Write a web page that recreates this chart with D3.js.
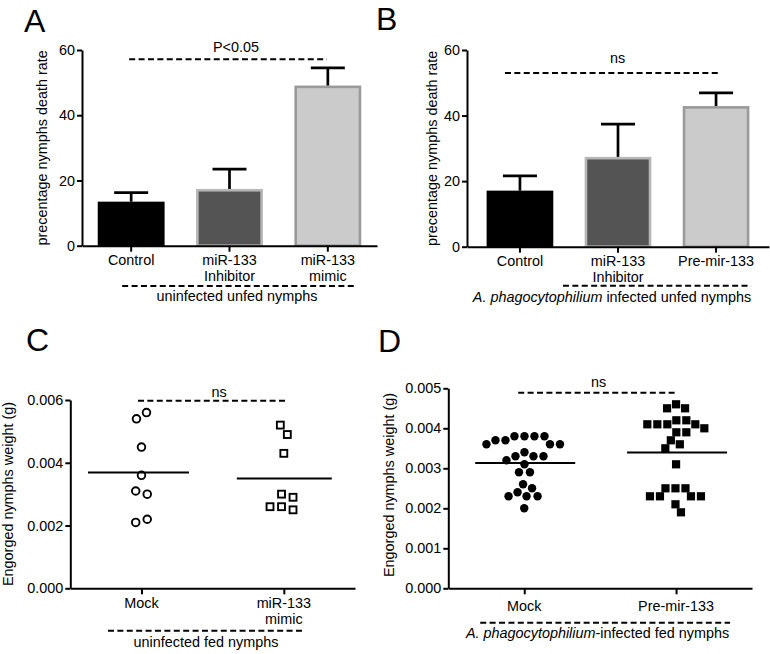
<!DOCTYPE html>
<html>
<head>
<meta charset="utf-8">
<script src="https://cdn.jsdelivr.net/npm/d3@7"></script>
<style>
  html, body { margin: 0; padding: 0; background: #fff; }
  svg { display: block; }
  text { font-family: 'Liberation Sans', Arial, Helvetica, sans-serif; fill: #000; }
</style>
</head>
<body>
<svg id="chart" width="770" height="654"></svg>
<script>
// ---------------- DATA ----------------
// Panel A (uninfected unfed nymphs)
const catsA  = ["Control", "miR-133|Inhibitor", "miR-133|mimic"];
const meansA = [13.5, 17.4, 49.1];
const errA   = [2.8, 6.1, 5.4];
// Panel B (A. phagocytophilium infected unfed nymphs)
const catsB  = ["Control", "miR-133|Inhibitor", "Pre-mir-133"];
const meansB = [17.1, 27.4, 42.9];
const errB   = [4.5, 10.0, 4.0];
const ticksAB = [0, 20, 40, 60];

// Panel C (uninfected fed nymphs)
const catsC  = ["Mock", "miR-133|mimic"];
const mockC  = [0.0054, 0.0056, 0.0045, 0.0036, 0.0031, 0.0030, 0.0021, 0.0022];
const mimicC = [0.0052, 0.0049, 0.0043, 0.0030, 0.0029, 0.0026, 0.0025, 0.0026];
const ticksC = [0, 0.002, 0.004, 0.006];

// Panel D (A. phagocytophilium-infected fed nymphs)
const catsD  = ["Mock", "Pre-mir-133"];
const mockD  = [0.0038, 0.0038, 0.0038, 0.0038, 0.0037, 0.0037, 0.0036, 0.0036, 0.0036,
                0.0034, 0.0033, 0.0033, 0.0033, 0.0032, 0.0031, 0.0029, 0.0029,
                0.0026, 0.0025, 0.0024, 0.0023, 0.0023, 0.0023, 0.0020];
const preD   = [0.0046, 0.0045, 0.0045, 0.0042, 0.0042, 0.0041, 0.0041, 0.0041, 0.0041,
                0.0040, 0.0039, 0.0039, 0.0037, 0.0036, 0.0035, 0.0031,
                0.0025, 0.0025, 0.0025, 0.0023, 0.0023, 0.0023, 0.0023, 0.0021, 0.0019];
const ticksD = [0, 0.001, 0.002, 0.003, 0.004, 0.005];

// Annotations
const panelLetters = ["A", "B", "C", "D"];
const sigLabels    = ["P<0.05", "ns", "ns", "ns"];
const sigLevels    = [57.2, 53, 0.00598, 0.00489];
const groupLabels  = [
  [{t: "uninfected unfed nymphs"}],
  [{t: "A. phagocytophilium", i: true}, {t: " infected unfed nymphs"}],
  [{t: "uninfected fed nymphs"}],
  [{t: "A. phagocytophilium", i: true}, {t: "-infected fed nymphs"}]
];
const yTitles = ["precentage nymphs death rate", "precentage nymphs death rate",
                 "Engorged nymphs weight (g)", "Engorged nymphs weight (g)"];

// ---------------- DRAW ----------------
const svg = d3.select("#chart");
const FS = 14.4;
const barFill   = ["#000000", "#545454", "#cbcbcb"];
const barStroke = ["#000000", "#b6b6b6", "#9a9a9a"];

function dashed(x1, x2, y) {
  svg.append("line").attr("x1", x1).attr("x2", x2).attr("y1", y).attr("y2", y)
    .attr("stroke", "#000").attr("stroke-width", 2).attr("stroke-dasharray", "6,3.4");
}
function label(x, y, parts, anchor) {
  const t = svg.append("text").attr("x", x).attr("y", y)
    .attr("text-anchor", anchor || "middle").attr("font-size", FS);
  parts.forEach(p => t.append("tspan").text(p.t).attr("font-style", p.i ? "italic" : null));
  return t;
}
function yTitle(x, y, s) {
  svg.append("text").attr("transform", `translate(${x},${y}) rotate(-90)`)
    .attr("text-anchor", "middle").attr("dy", "0.35em").attr("font-size", FS).text(s);
}
function styleAxis(g) {
  g.selectAll("path.domain").attr("stroke", "#000").attr("stroke-width", 2);
  g.selectAll(".tick line").attr("stroke", "#000").attr("stroke-width", 2);
  g.selectAll(".tick text").attr("font-size", FS)
    .attr("font-family", "'Liberation Sans', Arial, Helvetica, sans-serif").attr("fill", "#000");
}
function catLabels(x, cats, y0) {
  cats.forEach(c => {
    const lines = c.split("|");
    const t = svg.append("text").attr("text-anchor", "middle").attr("font-size", FS);
    lines.forEach((l, i) => t.append("tspan").attr("x", x(c)).attr("y", y0 + i * 16).text(l));
  });
}

function barPanel(p, cats, means, errs, xr, yr, opts) {
  const x = d3.scaleBand().domain(cats).range(xr).paddingInner(0.32).paddingOuter(opts.po);
  const y = d3.scaleLinear().domain([0, 60]).range(yr);
  const sw = 2.6;
  cats.forEach((c, i) => {
    svg.append("rect")
      .attr("x", x(c) + sw / 2).attr("width", x.bandwidth() - sw)
      .attr("y", y(means[i]) + sw / 2).attr("height", y(0) - y(means[i]) - sw / 2)
      .attr("fill", barFill[i]).attr("stroke", barStroke[i]).attr("stroke-width", sw);
    const cx = x(c) + x.bandwidth() / 2;
    svg.append("line").attr("x1", cx).attr("x2", cx)
      .attr("y1", y(means[i])).attr("y2", y(means[i] + errs[i]))
      .attr("stroke", "#000").attr("stroke-width", 2.7);
    svg.append("line").attr("x1", cx - 17).attr("x2", cx + 17)
      .attr("y1", y(means[i] + errs[i])).attr("y2", y(means[i] + errs[i]))
      .attr("stroke", "#000").attr("stroke-width", 2.7);
  });
  const gx = svg.append("g").attr("transform", `translate(0,${yr[0]})`)
    .call(d3.axisBottom(x).tickSize(6).tickSizeOuter(0).tickFormat(""));
  styleAxis(gx);
  const gy = svg.append("g").attr("transform", `translate(${xr[0]},0)`)
    .call(d3.axisLeft(y).tickValues(ticksAB).tickSize(5).tickPadding(2).tickSizeOuter(0));
  styleAxis(gy);
  catLabels(c => x(c) + x.bandwidth() / 2, cats, opts.labY);
  const c0 = x(cats[0]) + x.bandwidth() / 2, c2 = x(cats[2]) + x.bandwidth() / 2;
  dashed(c0 + opts.sig[0], c2 + opts.sig[1], y(sigLevels[p]));
  svg.append("text").attr("x", opts.sigText[0]).attr("y", opts.sigText[1])
    .attr("text-anchor", "middle").attr("font-size", FS).text(sigLabels[p]);
  dashed(c0 + opts.grp[0], c2 + opts.grp[1], opts.grp[2]);
  label(opts.grpText[0], opts.grpText[1], groupLabels[p]);
  yTitle(opts.yt[0], (yr[0] + yr[1]) / 2, yTitles[p]);
}

function swarm(values, y, diam) {
  const pts = values.map(v => ({v, y: y(v), x: 0}));
  const placed = [];
  pts.forEach(p => {
    const near = placed.filter(q => Math.abs(q.y - p.y) < diam);
    let best = 0;
    if (near.length) {
      const s = d3.sum(near, q => q.x);
      outer:
      for (let k = 0; k < 400; k++) {
        let cands = k === 0 ? [0] : [k * 0.5, -k * 0.5];
        if (s > 0) cands = cands.reverse();
        for (const c of cands) {
          if (near.every(q => Math.hypot(q.x - c, q.y - p.y) >= diam)) { best = c; break outer; }
        }
      }
    }
    p.x = best;
    placed.push(p);
  });
  const sorted = pts.slice().sort((a, b) => a.y - b.y);
  let cl = [];
  const flush = () => { const m = d3.mean(cl, q => q.x); cl.forEach(q => q.x -= m); cl = []; };
  sorted.forEach((p, i) => {
    if (i > 0 && p.y - sorted[i - 1].y >= diam) flush();
    cl.push(p);
  });
  flush();
  return pts;
}

function scatterPanel(p, cats, groups, ticks, xr, yr, opts) {
  const x = d3.scalePoint().domain(cats).range(xr).padding(0.5);
  const y = d3.scaleLinear().domain([0, ticks[ticks.length - 1]]).range(yr);
  groups.forEach((vals, gi) => {
    const cx = x(cats[gi]);
    const pts = swarm(vals, y, opts.diam);
    const sh = opts.shapes[gi];
    pts.forEach(pt => {
      if (sh.type === "circle") {
        svg.append("circle").attr("cx", cx + pt.x).attr("cy", pt.y).attr("r", sh.r)
          .attr("fill", sh.fill).attr("stroke", "#000").attr("stroke-width", sh.sw);
      } else {
        svg.append("rect").attr("x", cx + pt.x - sh.s / 2).attr("y", pt.y - sh.s / 2)
          .attr("width", sh.s).attr("height", sh.s)
          .attr("fill", sh.fill).attr("stroke", "#000").attr("stroke-width", sh.sw);
      }
    });
    const m = d3.mean(vals);
    svg.append("line").attr("x1", cx - opts.ml[gi][0]).attr("x2", cx + opts.ml[gi][1])
      .attr("y1", y(m)).attr("y2", y(m)).attr("stroke", "#000").attr("stroke-width", 2);
  });
  const gx = svg.append("g").attr("transform", `translate(0,${yr[0]})`)
    .call(d3.axisBottom(x).tickSize(6).tickSizeOuter(0).tickFormat(""));
  styleAxis(gx);
  const gy = svg.append("g").attr("transform", `translate(${xr[0]},0)`)
    .call(d3.axisLeft(y).tickValues(ticks).tickFormat(d3.format(".3f"))
      .tickSize(5).tickPadding(2).tickSizeOuter(0));
  styleAxis(gy);
  catLabels(x, cats, opts.labY);
  const c0 = x(cats[0]), c1 = x(cats[1]);
  dashed(c0 + opts.sig[0], c1 + opts.sig[1], y(sigLevels[p]));
  svg.append("text").attr("x", opts.sigText[0]).attr("y", opts.sigText[1])
    .attr("text-anchor", "middle").attr("font-size", FS).text(sigLabels[p]);
  dashed(c0 + opts.grp[0], c1 + opts.grp[1], opts.grp[2]);
  label(opts.grpText[0], opts.grpText[1], groupLabels[p]);
  yTitle(opts.yt[0], opts.yt[1], yTitles[p]);
}

// Panel letters
[[24, 32], [376, 30], [26, 351], [378, 352]].forEach((pos, i) => {
  svg.append("text").attr("x", pos[0]).attr("y", pos[1]).attr("font-size", 32).text(panelLetters[i]);
});

barPanel(0, catsA, meansA, errA, [82, 377], [245.7, 50], {
  po: 0.16, labY: 265, sig: [-2, -1], sigText: [236, 52],
  grp: [-9, 26, 286], grpText: [237, 301], yt: [42]
});
barPanel(1, catsB, meansB, errB, [467, 769], [246.7, 50], {
  po: 0.2, labY: 266, sig: [-15, 3], sigText: [617.5, 63],
  grp: [43, 35, 285.7], grpText: [612, 302], yt: [432]
});
scatterPanel(2, catsC, [mockC, mimicC], ticksC, [70.3, 355], [588.3, 400], {
  diam: 11.5, labY: 608, sig: [-3.5, 3], sigText: [219, 396.5],
  grp: [-33.5, 20, 630.7], grpText: [206, 647], yt: [8, 494],
  ml: [[53.5, 47.5], [47, 48]],
  shapes: [{type: "circle", r: 3.8, fill: "#fff", sw: 1.9}, {type: "square", s: 6.9, fill: "#fff", sw: 1.9}]
});
scatterPanel(3, catsD, [mockD, preD], ticksD, [448.3, 752], [588.3, 388.3], {
  diam: 9.6, labY: 611, sig: [-6, 0], sigText: [598.5, 387],
  grp: [-44, 54, 622.7], grpText: [597.5, 638], yt: [389, 485],
  ml: [[49, 51], [49, 51]],
  shapes: [{type: "circle", r: 4.2, fill: "#000", sw: 0}, {type: "square", s: 8.2, fill: "#000", sw: 0}]
});
</script>
</body>
</html>
